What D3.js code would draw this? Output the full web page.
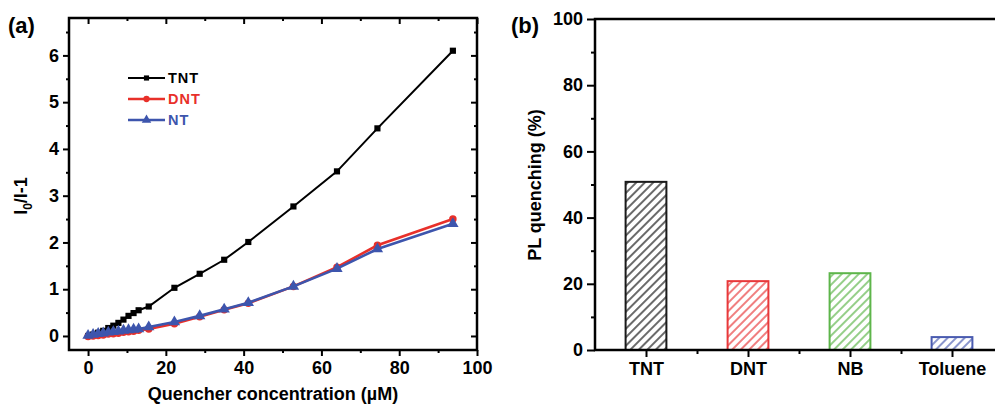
<!DOCTYPE html>
<html>
<head>
<meta charset="utf-8">
<script src="https://cdn.jsdelivr.net/npm/d3@7"></script>
<style>
  body { margin: 0; background: #fff; }
  svg { display: block; font-family: "Liberation Sans", Arial, sans-serif; font-weight: bold; }
</style>
</head>
<body>
<svg id="chart" width="995" height="406"></svg>
<script>
// ── Panel (a) data: Stern–Volmer plot ─────────────────────────────────────────
var conc = [0, 1.3, 2.6, 3.9, 5.2, 6.5, 7.8, 9.1, 10.4, 11.7, 13.0, 15.6,
            22.2, 28.7, 35.0, 41.2, 52.8, 64.0, 74.4, 93.8];
var tntVals = [0, 0.03, 0.07, 0.11, 0.17, 0.22, 0.28, 0.35, 0.43, 0.49, 0.55, 0.63,
               1.03, 1.33, 1.63, 2.01, 2.77, 3.52, 4.44, 6.10];
var dntVals = [-0.01, 0.0, 0.01, 0.02, 0.04, 0.05, 0.06, 0.08, 0.09, 0.10, 0.12, 0.15,
               0.26, 0.41, 0.56, 0.70, 1.06, 1.47, 1.94, 2.50];
var ntVals  = [0.01, 0.03, 0.05, 0.06, 0.08, 0.09, 0.10, 0.12, 0.13, 0.14, 0.15, 0.19,
               0.30, 0.43, 0.57, 0.71, 1.06, 1.44, 1.86, 2.40];
var xTicksA = [0, 20, 40, 60, 80, 100];
var yTicksA = [0, 1, 2, 3, 4, 5, 6];

// ── Panel (b) data: PL quenching per analyte ──────────────────────────────────
var analytes = ["TNT", "DNT", "NB", "Toluene"];
var quench   = [50.8, 20.8, 23.2, 3.9];
var barColors = ["#1a1a1a", "#e8383a", "#5db54a", "#4a5bb0"];
var yTicksB = [0, 20, 40, 60, 80, 100];

var svg = d3.select("#chart");

// hatch patterns, one per bar colour
var defs = svg.append("defs");
barColors.forEach(function (c, i) {
  var p = defs.append("pattern")
    .attr("id", "hatch" + i)
    .attr("patternUnits", "userSpaceOnUse")
    .attr("width", 6).attr("height", 6)
    .attr("patternTransform", "rotate(45)");
  p.append("line")
    .attr("x1", 3).attr("y1", 0).attr("x2", 3).attr("y2", 6)
    .attr("stroke", c).attr("stroke-width", 1.3);
});

// ── Panel (a) ────────────────────────────────────────────────────────────────
var A = { left: 69, right: 477, top: 18, bottom: 350 };
var xa = d3.scaleLinear().domain([-4.9, 100]).range([A.left, A.right]);
var ya = d3.scaleLinear().domain([-0.3, 6.8]).range([A.bottom, A.top]);

var ga = svg.append("g");

function tickSet(g, axis) {
  g.call(axis);
  g.select(".domain").remove();
  g.selectAll("line").attr("stroke", "#000").attr("stroke-width", 2);
}

// minor + major ticks, outward on left/bottom, inward on top/right
var xMinorA = d3.range(10, 100, 20);
var yMinorA = d3.range(0.5, 6.6, 1);

tickSet(ga.append("g").attr("transform", "translate(0," + A.bottom + ")"),
  d3.axisBottom(xa).tickValues(xTicksA).tickSize(6).tickPadding(5).tickFormat(d3.format("d")));
tickSet(ga.append("g").attr("transform", "translate(0," + A.bottom + ")"),
  d3.axisBottom(xa).tickValues(xMinorA).tickSize(3).tickFormat(""));
tickSet(ga.append("g").attr("transform", "translate(0," + A.top + ")"),
  d3.axisBottom(xa).tickValues(xTicksA).tickSize(6).tickFormat(""));
tickSet(ga.append("g").attr("transform", "translate(0," + A.top + ")"),
  d3.axisBottom(xa).tickValues(xMinorA).tickSize(3).tickFormat(""));
tickSet(ga.append("g").attr("transform", "translate(" + A.left + ",0)"),
  d3.axisLeft(ya).tickValues(yTicksA).tickSize(6).tickPadding(4).tickFormat(d3.format("d")));
tickSet(ga.append("g").attr("transform", "translate(" + A.left + ",0)"),
  d3.axisLeft(ya).tickValues(yMinorA).tickSize(3).tickFormat(""));
tickSet(ga.append("g").attr("transform", "translate(" + A.right + ",0)"),
  d3.axisLeft(ya).tickValues(yTicksA).tickSize(6).tickFormat(""));
tickSet(ga.append("g").attr("transform", "translate(" + A.right + ",0)"),
  d3.axisLeft(ya).tickValues(yMinorA).tickSize(3).tickFormat(""));

ga.selectAll(".tick text")
  .attr("font-size", 18).attr("font-weight", "bold")
  .attr("font-family", "Liberation Sans, Arial, sans-serif").attr("fill", "#000");

ga.append("rect")
  .attr("x", A.left).attr("y", A.top)
  .attr("width", A.right - A.left).attr("height", A.bottom - A.top)
  .attr("fill", "none").attr("stroke", "#000").attr("stroke-width", 2.5);

var seriesA = [
  { name: "TNT", vals: tntVals, color: "#000000", shape: d3.symbolSquare, size: 38, lw: 2 },
  { name: "DNT", vals: dntVals, color: "#e8302a", shape: d3.symbolCircle, size: 44, lw: 2.6 },
  { name: "NT",  vals: ntVals,  color: "#3d55ad", shape: d3.symbolTriangle, size: 56, lw: 2.6 }
];

var line = d3.line()
  .x(function (d) { return xa(d[0]); })
  .y(function (d) { return ya(d[1]); });

seriesA.forEach(function (s) {
  var pts = conc.map(function (c, i) { return [c, s.vals[i]]; });
  var g = ga.append("g");
  g.append("path").datum(pts)
    .attr("d", line).attr("fill", "none")
    .attr("stroke", s.color).attr("stroke-width", s.lw);
  g.selectAll("path.m").data(pts).join("path")
    .attr("class", "m")
    .attr("transform", function (d) { return "translate(" + xa(d[0]) + "," + ya(d[1]) + ")"; })
    .attr("d", d3.symbol().type(s.shape).size(s.size))
    .attr("fill", s.color);
});

// legend
var leg = ga.append("g");
seriesA.forEach(function (s, i) {
  var y = 78 + i * 21;
  leg.append("line").attr("x1", 128).attr("x2", 165).attr("y1", y).attr("y2", y)
    .attr("stroke", s.color).attr("stroke-width", s.lw);
  leg.append("path").attr("transform", "translate(146.5," + y + ")")
    .attr("d", d3.symbol().type(s.shape).size(s.size * 0.7)).attr("fill", s.color);
  leg.append("text").attr("x", 168).attr("y", y + 5)
    .attr("font-size", 14.5).attr("letter-spacing", 1).attr("fill", s.color).text(s.name);
});

ga.append("text").attr("x", 273).attr("y", 400).attr("text-anchor", "middle")
  .attr("font-size", 18).text("Quencher concentration (\u00b5M)");

var yt = ga.append("text")
  .attr("transform", "translate(27,196) rotate(-90)")
  .attr("text-anchor", "middle").attr("font-size", 18);
yt.append("tspan").text("I");
yt.append("tspan").attr("font-size", 12).attr("dy", 5).text("0");
yt.append("tspan").attr("dy", -5).text("/I-1");

ga.append("text").attr("x", 8).attr("y", 33).attr("font-size", 22).text("(a)");

// ── Panel (b) ────────────────────────────────────────────────────────────────
var B = { left: 595, right: 1003, top: 19, bottom: 350 };
var xb = d3.scaleLinear().domain([0.5, 4.5]).range([B.left, B.right]);
var yb = d3.scaleLinear().domain([0, 100]).range([B.bottom, B.top]);
var catPos = analytes.map(function (a, i) { return i + 1; });

var gb = svg.append("g");

tickSet(gb.append("g").attr("transform", "translate(0," + B.bottom + ")"),
  d3.axisBottom(xb).tickValues(catPos).tickSize(7).tickPadding(5)
    .tickFormat(function (d) { return analytes[d - 1]; }));
tickSet(gb.append("g").attr("transform", "translate(0," + B.bottom + ")"),
  d3.axisBottom(xb).tickValues([1.5, 2.5, 3.5]).tickSize(4).tickFormat(""));
tickSet(gb.append("g").attr("transform", "translate(" + B.left + ",0)"),
  d3.axisLeft(yb).tickValues(yTicksB).tickSize(8).tickPadding(4).tickFormat(d3.format("d")));
tickSet(gb.append("g").attr("transform", "translate(" + B.left + ",0)"),
  d3.axisLeft(yb).tickValues(d3.range(10, 100, 20)).tickSize(4).tickFormat(""));

gb.selectAll(".tick text")
  .attr("font-size", 18).attr("font-weight", "bold")
  .attr("font-family", "Liberation Sans, Arial, sans-serif").attr("fill", "#000");

gb.selectAll("rect.bar").data(quench).join("rect")
  .attr("class", "bar")
  .attr("x", function (d, i) { return xb(catPos[i] - 0.2); })
  .attr("width", function (d, i) { return xb(catPos[i] + 0.2) - xb(catPos[i] - 0.2); })
  .attr("y", function (d) { return yb(d); })
  .attr("height", function (d) { return yb(0) - yb(d); })
  .attr("fill", function (d, i) { return "url(#hatch" + i + ")"; })
  .attr("stroke", function (d, i) { return barColors[i]; })
  .attr("stroke-width", 2);

gb.append("rect")
  .attr("x", B.left).attr("y", B.top)
  .attr("width", B.right - B.left).attr("height", B.bottom - B.top)
  .attr("fill", "none").attr("stroke", "#000").attr("stroke-width", 2.5);

gb.append("text")
  .attr("transform", "translate(541,185) rotate(-90)")
  .attr("text-anchor", "middle").attr("font-size", 18).text("PL quenching (%)");

gb.append("text").attr("x", 511).attr("y", 33).attr("font-size", 22).text("(b)");
</script>
</body>
</html>
